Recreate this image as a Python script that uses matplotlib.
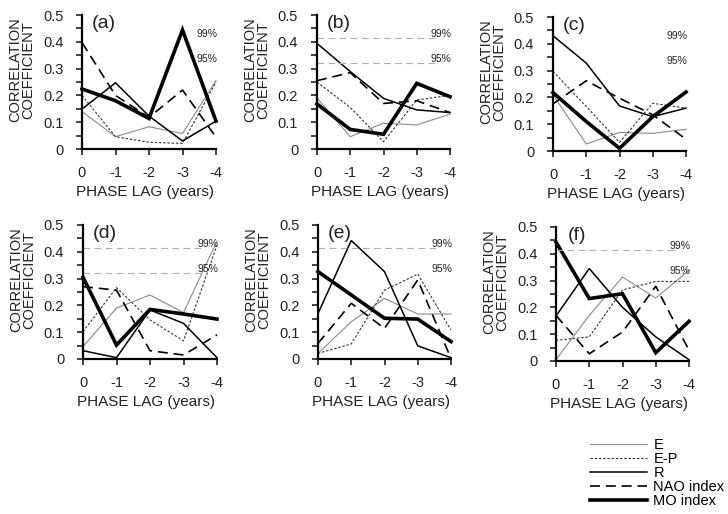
import matplotlib
matplotlib.use('Agg')
import matplotlib.pyplot as plt

plt.rcParams['font.family'] = ['Liberation Sans', 'DejaVu Sans']

lags = [0, -1, -2, -3, -4]
panels = ['(a)', '(b)', '(c)', '(d)', '(e)', '(f)']

# one row per panel a..f
E = [[0.14, 0.046, 0.083, 0.058, 0.255],
     [0.19, 0.046, 0.096, 0.09, 0.13],
     [0.21, 0.026, 0.069, 0.066, 0.081],
     [0.046, 0.19, 0.239, 0.173, 0.44],
     [0.021, 0.139, 0.226, 0.168, 0.168],
     [0.005, 0.17, 0.313, 0.235, 0.338]]
EP = [[0.2, 0.046, 0.025, 0.021, 0.25],
      [0.25, 0.155, 0.027, 0.183, 0.2],
      [0.297, 0.166, 0.032, 0.178, 0.16],
      [0.102, 0.266, 0.146, 0.068, 0.425],
      [0.021, 0.056, 0.257, 0.317, 0.108],
      [0.077, 0.09, 0.265, 0.297, 0.297]]
R = [[0.149, 0.247, 0.123, 0.03, 0.104],
     [0.394, 0.289, 0.189, 0.146, 0.136],
     [0.43, 0.328, 0.168, 0.128, 0.16],
     [0.031, 0.005, 0.183, 0.133, 0.005],
     [0.17, 0.442, 0.326, 0.049, 0.005],
     [0.168, 0.345, 0.2, 0.09, 0.005]]
NAO = [[0.397, 0.20, 0.118, 0.22, 0.044],
       [0.255, 0.285, 0.17, 0.18, 0.136],
       [0.176, 0.262, 0.197, 0.135, 0.044],
       [0.27, 0.257, 0.031, 0.015, 0.09],
       [0.058, 0.208, 0.114, 0.295, 0.002],
       [0.17, 0.027, 0.108, 0.279, 0.04]]
MO = [[0.224, 0.18, 0.114, 0.444, 0.104],
      [0.168, 0.073, 0.055, 0.245, 0.195],
      [0.218, 0.11, 0.01, 0.128, 0.22],
      [0.305, 0.052, 0.185, 0.168, 0.149],
      [0.326, 0.239, 0.152, 0.149, 0.065],
      [0.444, 0.233, 0.251, 0.031, 0.148]]

sig_levels = [0.415, 0.322]
sig_labels = ['99%', '95%']
# which threshold lines are drawn in each panel (99%, 95%)
sig_drawn = [(False, False), (True, True), (False, False),
             (True, True), (True, False), (True, False)]

W, H = 728, 514
dpi = 100.0
fig = plt.figure(figsize=(W/dpi, H/dpi), dpi=dpi)

# axes boxes in pixels: left, top, right, bottom
boxes = [(82, 15, 216, 149), (317, 15, 450, 149), (553, 17, 686, 151),
         (83, 225, 217, 359), (318, 225, 451, 359), (556, 227, 689, 361)]

styles = [dict(color='#8a8a8a', lw=0.8, ls='-'),
          dict(color='#333333', lw=0.8, ls=(0, (2.2, 1.6))),
          dict(color='black', lw=1.1, ls='-'),
          dict(color='black', lw=1.2, ls=(0, (6, 3.5))),
          dict(color='black', lw=2.6, ls='-')]
names = ['E', 'E-P', 'R', 'NAO index', 'MO index']
series = [E, EP, R, NAO, MO]

for i, (l, t, r, b) in enumerate(boxes):
    ax = fig.add_axes([l/W, 1 - b/H, (r - l)/W, (b - t)/H])
    for s, st in zip(series, styles):
        ax.plot(lags, s[i], clip_on=False, solid_joinstyle='miter', **st)
    for lev, lab, drawn in zip(sig_levels, sig_labels, sig_drawn[i]):
        if drawn:
            ax.plot([0, -3.55], [lev, lev], color='#b0b0b0', lw=0.8,
                    ls=(0, (6, 4)))
        ax.text(-4.05, lev - 0.004, lab, ha='right', va='bottom',
                fontsize=7.5, color='#222222')
    ax.set_xlim(0, -4)
    ax.set_ylim(0, 0.5)
    ax.set_xticks(lags)
    ax.set_xticklabels(['0', '-1', '-2', '-3', '-4'])
    ax.set_yticks([0, 0.1, 0.2, 0.3, 0.4, 0.5])
    ax.set_yticklabels(['0', '0.1', '0.2', '0.3', '0.4', '0.5'])
    ax.set_yticks([0.05, 0.15, 0.25, 0.35, 0.45], minor=True)
    for sp in ['top', 'right']:
        ax.spines[sp].set_visible(False)
    for sp in ['left', 'bottom']:
        ax.spines[sp].set_linewidth(1.6)
    ax.tick_params(axis='y', which='both', direction='out', length=4.5,
                   width=1.2, pad=9, labelsize=10.5, colors='#222222')
    ax.tick_params(axis='x', direction='out', length=4.5, width=1.2,
                   pad=8, labelsize=10.5, colors='#222222')
    ax.set_ylabel('CORRELATION\nCOEFFICIENT',
                  family=['Liberation Sans Narrow', 'Liberation Sans'],
                  fontsize=10.5, linespacing=0.9, color='#222222')
    ax.yaxis.set_label_coords(-0.35, 0.59)
    ax.set_xlabel('PHASE LAG (years)', fontsize=11, color='#222222')
    ax.xaxis.label.set_va('center')
    ax.xaxis.set_label_coords(0.47, -0.32)
    ax.text(0.16, 0.935, panels[i], transform=ax.transAxes, ha='center',
            va='center', fontsize=14, color='#222222')

handles = [plt.Line2D([], [], **st) for st in styles]
fig.legend(handles, names, loc='upper left',
           bbox_to_anchor=(590/W, 1 - 438/H), frameon=False, fontsize=10.5,
           borderpad=0, labelspacing=0.0, handlelength=3.9,
           handletextpad=0.45, borderaxespad=0)

fig.savefig('out.png', dpi=dpi)
